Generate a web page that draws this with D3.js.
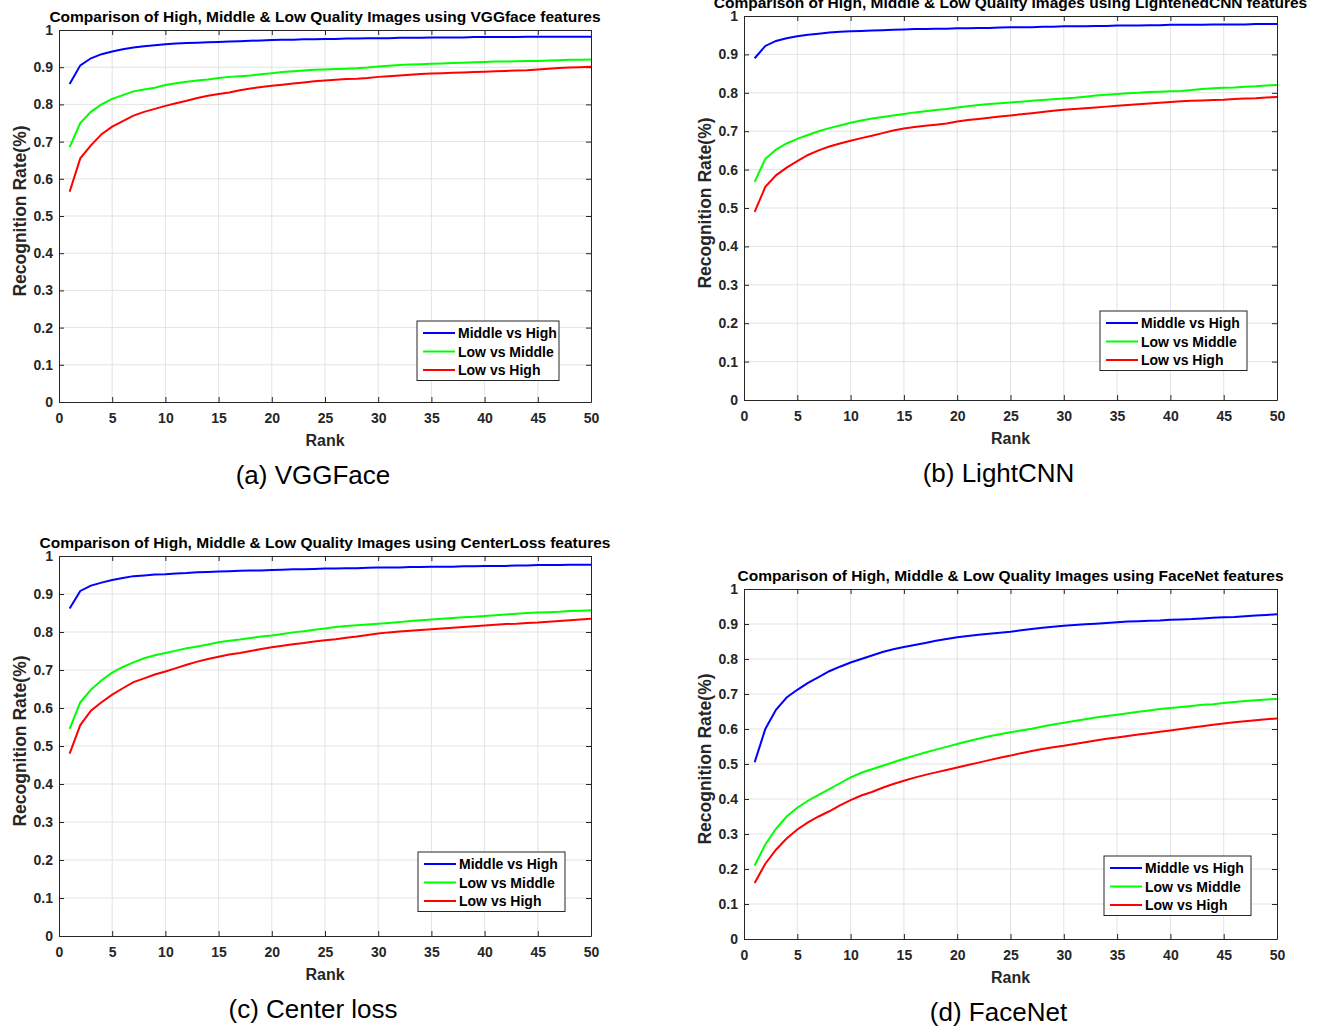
<!DOCTYPE html>
<html>
<head>
<meta charset="utf-8">
<script src="https://cdn.jsdelivr.net/npm/d3@7"></script>
<style>
    body { margin: 0; background: #fff; }
    svg { display: block; font-family: "Liberation Sans", Arial, sans-serif; }
</style>
</head>
<body>
<div id="chart"></div>
<script>
// Ranks and recognition rates
const ranks = d3.range(1, 51);
const seriesNames = ["Middle vs High", "Low vs Middle", "Low vs High"];
const seriesColors = ["#0000ff", "#00ff00", "#ff0000"];
const xTicks = [0, 5, 10, 15, 20, 25, 30, 35, 40, 45, 50];
const yTicks = [0, 0.1, 0.2, 0.3, 0.4, 0.5, 0.6, 0.7, 0.8, 0.9, 1];

const vggMidHigh = [0.855, 0.905, 0.924, 0.935, 0.942, 0.948, 0.953, 0.956, 0.959, 0.962,
    0.964, 0.965, 0.966, 0.967, 0.968, 0.969, 0.970, 0.971, 0.972, 0.973,
    0.974, 0.974, 0.975, 0.975, 0.976, 0.976, 0.977, 0.977, 0.978, 0.978,
    0.978, 0.979, 0.979, 0.979, 0.980, 0.980, 0.980, 0.980, 0.981, 0.981,
    0.981, 0.981, 0.981, 0.982, 0.982, 0.982, 0.982, 0.982, 0.982, 0.982];
const vggLowMid = [0.685, 0.750, 0.780, 0.800, 0.815, 0.825, 0.835, 0.840, 0.845, 0.852,
    0.857, 0.861, 0.864, 0.867, 0.871, 0.874, 0.876, 0.878, 0.881, 0.884,
    0.887, 0.889, 0.891, 0.893, 0.894, 0.895, 0.896, 0.897, 0.899, 0.902,
    0.904, 0.906, 0.907, 0.908, 0.909, 0.910, 0.911, 0.912, 0.913, 0.914,
    0.915, 0.915, 0.916, 0.917, 0.917, 0.918, 0.919, 0.920, 0.920, 0.921];
const vggLowHigh = [0.565, 0.655, 0.690, 0.720, 0.740, 0.755, 0.770, 0.780, 0.788, 0.796,
    0.803, 0.810, 0.817, 0.823, 0.828, 0.832, 0.838, 0.843, 0.847, 0.850,
    0.853, 0.856, 0.859, 0.862, 0.864, 0.866, 0.868, 0.869, 0.871, 0.874,
    0.876, 0.878, 0.880, 0.882, 0.883, 0.884, 0.885, 0.886, 0.887, 0.888,
    0.889, 0.890, 0.891, 0.892, 0.894, 0.896, 0.898, 0.899, 0.900, 0.901];

const lcnnMidHigh = [0.890, 0.922, 0.935, 0.942, 0.947, 0.951, 0.954, 0.957, 0.959, 0.960,
    0.961, 0.962, 0.963, 0.964, 0.965, 0.966, 0.966, 0.967, 0.967, 0.968,
    0.968, 0.969, 0.969, 0.970, 0.971, 0.971, 0.971, 0.972, 0.972, 0.973,
    0.973, 0.973, 0.974, 0.974, 0.975, 0.975, 0.975, 0.976, 0.976, 0.977,
    0.977, 0.977, 0.977, 0.978, 0.978, 0.978, 0.978, 0.979, 0.979, 0.979];
const lcnnLowMid = [0.568, 0.628, 0.652, 0.668, 0.680, 0.690, 0.700, 0.708, 0.715, 0.722,
    0.728, 0.733, 0.737, 0.741, 0.745, 0.749, 0.752, 0.755, 0.758, 0.762,
    0.765, 0.768, 0.771, 0.773, 0.775, 0.777, 0.779, 0.781, 0.783, 0.785,
    0.787, 0.790, 0.793, 0.795, 0.797, 0.799, 0.800, 0.802, 0.803, 0.804,
    0.805, 0.807, 0.810, 0.812, 0.813, 0.814, 0.816, 0.817, 0.819, 0.820];
const lcnnLowHigh = [0.490, 0.555, 0.585, 0.605, 0.622, 0.638, 0.650, 0.660, 0.668, 0.675,
    0.682, 0.688, 0.695, 0.702, 0.707, 0.711, 0.714, 0.717, 0.720, 0.725,
    0.729, 0.732, 0.735, 0.738, 0.741, 0.744, 0.747, 0.750, 0.753, 0.756,
    0.758, 0.760, 0.762, 0.764, 0.766, 0.768, 0.770, 0.772, 0.774, 0.776,
    0.778, 0.779, 0.780, 0.781, 0.782, 0.784, 0.785, 0.786, 0.788, 0.789];

const clMidHigh = [0.862, 0.908, 0.922, 0.930, 0.937, 0.942, 0.947, 0.949, 0.951, 0.952,
    0.954, 0.955, 0.957, 0.958, 0.959, 0.960, 0.961, 0.962, 0.962, 0.963,
    0.964, 0.965, 0.965, 0.966, 0.967, 0.967, 0.968, 0.968, 0.969, 0.970,
    0.970, 0.970, 0.971, 0.971, 0.972, 0.972, 0.972, 0.973, 0.973, 0.974,
    0.974, 0.974, 0.975, 0.975, 0.976, 0.976, 0.976, 0.977, 0.977, 0.977];
const clLowMid = [0.545, 0.615, 0.648, 0.673, 0.693, 0.708, 0.720, 0.731, 0.739, 0.745,
    0.751, 0.757, 0.762, 0.767, 0.773, 0.777, 0.780, 0.784, 0.788, 0.791,
    0.795, 0.799, 0.802, 0.806, 0.809, 0.813, 0.816, 0.818, 0.820, 0.822,
    0.824, 0.826, 0.829, 0.831, 0.833, 0.835, 0.837, 0.839, 0.840, 0.842,
    0.844, 0.846, 0.848, 0.850, 0.851, 0.852, 0.853, 0.855, 0.856, 0.857];
const clLowHigh = [0.480, 0.555, 0.593, 0.615, 0.635, 0.652, 0.668, 0.678, 0.688, 0.696,
    0.705, 0.714, 0.722, 0.729, 0.735, 0.741, 0.745, 0.750, 0.755, 0.760,
    0.764, 0.768, 0.771, 0.775, 0.778, 0.781, 0.785, 0.788, 0.792, 0.796,
    0.799, 0.801, 0.803, 0.805, 0.807, 0.809, 0.811, 0.813, 0.815, 0.817,
    0.819, 0.821, 0.822, 0.824, 0.825, 0.827, 0.829, 0.831, 0.833, 0.835];

const fnMidHigh = [0.505, 0.600, 0.655, 0.690, 0.712, 0.732, 0.748, 0.765, 0.778, 0.790,
    0.800, 0.810, 0.820, 0.828, 0.834, 0.840, 0.846, 0.852, 0.857, 0.862,
    0.866, 0.869, 0.872, 0.875, 0.878, 0.882, 0.886, 0.889, 0.892, 0.895,
    0.897, 0.899, 0.901, 0.903, 0.905, 0.907, 0.908, 0.909, 0.910, 0.912,
    0.913, 0.914, 0.916, 0.918, 0.919, 0.920, 0.922, 0.924, 0.926, 0.928];
const fnLowMid = [0.210, 0.270, 0.315, 0.350, 0.375, 0.395, 0.412, 0.428, 0.445, 0.462,
    0.475, 0.485, 0.495, 0.505, 0.515, 0.524, 0.533, 0.541, 0.549, 0.557,
    0.565, 0.572, 0.579, 0.585, 0.591, 0.596, 0.601, 0.607, 0.613, 0.618,
    0.623, 0.628, 0.633, 0.637, 0.641, 0.645, 0.649, 0.653, 0.657, 0.660,
    0.663, 0.666, 0.669, 0.671, 0.674, 0.677, 0.680, 0.682, 0.684, 0.686];
const fnLowHigh = [0.160, 0.215, 0.255, 0.287, 0.313, 0.333, 0.350, 0.365, 0.382, 0.397,
    0.410, 0.420, 0.432, 0.443, 0.452, 0.461, 0.469, 0.476, 0.483, 0.490,
    0.497, 0.504, 0.511, 0.518, 0.524, 0.531, 0.537, 0.543, 0.548, 0.552,
    0.557, 0.562, 0.567, 0.572, 0.576, 0.580, 0.584, 0.588, 0.592, 0.596,
    0.600, 0.604, 0.608, 0.612, 0.616, 0.619, 0.622, 0.625, 0.628, 0.630];

const titles = [
    "Comparison of High, Middle & Low Quality Images using VGGface features",
    "Comparison of High, Middle & Low Quality Images using LightenedCNN features",
    "Comparison of High, Middle & Low Quality Images using CenterLoss features",
    "Comparison of High, Middle & Low Quality Images using FaceNet features"
];
const captions = ["(a) VGGFace", "(b) LightCNN", "(c) Center loss", "(d) FaceNet"];

// plot boxes in page pixels, plus legend box top-left
const panels = [
    { box: [59, 591, 30, 402], legend: [417, 321], series: [vggMidHigh, vggLowMid, vggLowHigh] },
    { box: [744, 1277, 16, 400], legend: [1100, 311], series: [lcnnMidHigh, lcnnLowMid, lcnnLowHigh] },
    { box: [59, 591, 556, 936], legend: [418, 852], series: [clMidHigh, clLowMid, clLowHigh] },
    { box: [744, 1277, 589, 939], legend: [1104, 856], series: [fnMidHigh, fnLowMid, fnLowHigh] }
];

const axisColor = "#262626";
const gridColor = "#e3e3e3";

const svg = d3.select("#chart")
    .append("svg")
    .attr("width", 1329)
    .attr("height", 1026);

function drawPanel(p, i) {
    const [left, right, top, bottom] = p.box;
    const x = d3.scaleLinear().domain([0, 50]).range([left, right]);
    const y = d3.scaleLinear().domain([0, 1]).range([bottom, top]);
    const g = svg.append("g");

    // grid
    g.append("g")
        .selectAll("line")
        .data(xTicks.slice(1, -1))
        .join("line")
        .attr("x1", (d) => x(d)).attr("x2", (d) => x(d))
        .attr("y1", top).attr("y2", bottom)
        .attr("stroke", gridColor).attr("stroke-width", 1);
    g.append("g")
        .selectAll("line")
        .data(yTicks.slice(1, -1))
        .join("line")
        .attr("x1", left).attr("x2", right)
        .attr("y1", (d) => y(d)).attr("y2", (d) => y(d))
        .attr("stroke", gridColor).attr("stroke-width", 1);

    // axes, box on with inward ticks
    const tickFmt = (d) => (d === 0 || d === 1 ? d3.format("d")(d) : d3.format(".1f")(d));
    const axX = g.append("g")
        .attr("transform", `translate(0,${bottom})`)
        .call(d3.axisBottom(x).tickValues(xTicks).tickSizeInner(-5).tickSizeOuter(0).tickPadding(11));
    const axY = g.append("g")
        .attr("transform", `translate(${left},0)`)
        .call(d3.axisLeft(y).tickValues(yTicks).tickFormat(tickFmt).tickSizeInner(-5).tickSizeOuter(0).tickPadding(6));
    const axT = g.append("g")
        .attr("transform", `translate(0,${top})`)
        .call(d3.axisTop(x).tickValues(xTicks).tickFormat("").tickSizeInner(-5).tickSizeOuter(0));
    const axR = g.append("g")
        .attr("transform", `translate(${right},0)`)
        .call(d3.axisRight(y).tickValues(yTicks).tickFormat("").tickSizeInner(-5).tickSizeOuter(0));
    [axX, axY, axT, axR].forEach((a) => {
        a.select(".domain").attr("stroke", axisColor);
        a.selectAll(".tick line").attr("stroke", axisColor);
        a.selectAll("text")
            .attr("fill", axisColor)
            .attr("font-size", "14px")
            .attr("font-weight", "bold")
            .attr("font-family", "Liberation Sans, Arial, sans-serif");
    });

    // lines
    const line = d3.line().x((d, k) => x(ranks[k])).y((d) => y(d));
    p.series.forEach((s, k) => {
        g.append("path")
            .datum(s)
            .attr("fill", "none")
            .attr("stroke", seriesColors[k])
            .attr("stroke-width", 2)
            .attr("d", line);
    });

    // labels
    const cx = (left + right) / 2;
    g.append("text")
        .attr("x", cx).attr("y", top - 8)
        .attr("text-anchor", "middle")
        .attr("font-size", "15.5px").attr("font-weight", "bold")
        .attr("fill", "#000")
        .text(titles[i]);
    g.append("text")
        .attr("x", cx).attr("y", bottom + 44)
        .attr("text-anchor", "middle")
        .attr("font-size", "16px").attr("font-weight", "bold")
        .attr("fill", axisColor)
        .text("Rank");
    g.append("text")
        .attr("transform", `translate(${left - 33},${(top + bottom) / 2 - 5}) rotate(-90)`)
        .attr("text-anchor", "middle")
        .attr("font-size", "17.5px").attr("font-weight", "bold")
        .attr("fill", axisColor)
        .text("Recognition Rate(%)");
    g.append("text")
        .attr("x", cx - 12).attr("y", bottom + 82)
        .attr("text-anchor", "middle")
        .attr("font-size", "26px")
        .attr("fill", "#000")
        .text(captions[i]);

    // legend
    const [lx, ly] = p.legend;
    const lg = g.append("g").attr("transform", `translate(${lx},${ly})`);
    const rowH = 18.5;
    lg.append("rect")
        .attr("width", i === 0 ? 142 : 147).attr("height", rowH * 3 + 4)
        .attr("fill", "#fff").attr("stroke", axisColor).attr("stroke-width", 1);
    seriesNames.forEach((name, k) => {
        const yy = 12 + k * rowH;
        lg.append("line")
            .attr("x1", 6).attr("x2", 38)
            .attr("y1", yy).attr("y2", yy)
            .attr("stroke", seriesColors[k]).attr("stroke-width", 2);
        lg.append("text")
            .attr("x", 41).attr("y", yy + 5)
            .attr("font-size", "14px").attr("font-weight", "bold")
            .attr("fill", "#000")
            .text(name);
    });
}

panels.forEach(drawPanel);
</script>
</body>
</html>
